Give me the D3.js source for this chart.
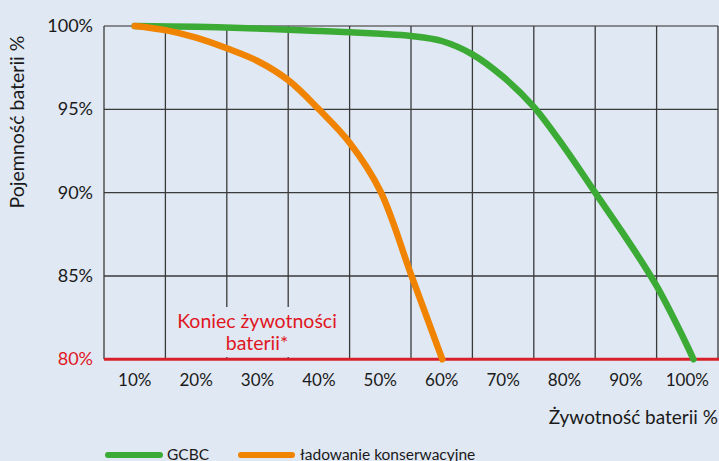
<!DOCTYPE html>
<html><head><meta charset="utf-8">
<script src="https://cdn.jsdelivr.net/npm/d3@7"></script>
<style>
html,body{margin:0;padding:0;background:#e0e8f3;}
svg{display:block;font-family:Lato,"Noto Sans",sans-serif;}
</style></head>
<body>
<svg id="c" width="719" height="461"></svg>
<script>
const xTicks = [10,20,30,40,50,60,70,80,90,100];
const yTicks = [100,95,90,85];
const xGrid = [5,15,25,35,45,55,65,75,85,95,105];
const gcbcX = [10,20,30,35,40,45,50,55,60,65,70,75,80,85,90,95,100,101];
const gcbcY = [100,99.95,99.85,99.77,99.7,99.63,99.53,99.4,99.1,98.3,96.95,95.15,92.7,90.0,87.3,84.4,80.8,80];
const floatX = [10,15,20,25,30,35,40,45,50,55,60.1];
const floatY = [100,99.75,99.3,98.66,97.9,96.75,95.0,93.0,90.1,85.1,80];
const seriesNames = ["GCBC","ładowanie konserwacyjne"];
const colors = ["#3cab36","#f08300"];

const svg = d3.select("#c");
const x = d3.scaleLinear().domain([5,105]).range([104,718]);
const y = d3.scaleLinear().domain([80,100]).range([359.3,26]);

svg.append("rect").attr("width",719).attr("height",461).attr("fill","#e0e8f3");

const g = svg.append("g");
g.selectAll(".hg").data(yTicks).join("line")
  .attr("x1",x(5)).attr("x2",x(105))
  .attr("y1",d=>y(d)).attr("y2",d=>y(d))
  .attr("stroke",d=>d===100?"#6a6a6a":"#3a3a3a").attr("stroke-width",1.3);
g.selectAll(".vg").data(xGrid).join("line")
  .attr("x1",d=>x(d)).attr("x2",d=>x(d))
  .attr("y1",y(100)).attr("y2",y(80))
  .attr("stroke","#3a3a3a").attr("stroke-width",1.3);

svg.append("rect").attr("x",x(16.5)).attr("y",307).attr("width",x(44)-x(16.5)).attr("height",50)
  .attr("fill","#e0e8f3");

svg.append("line").attr("x1",x(5)).attr("x2",719).attr("y1",y(80)).attr("y2",y(80))
  .attr("stroke","#d9202a").attr("stroke-width",3);

const line = d3.line().x(d=>x(d[0])).y(d=>y(d[1])).curve(d3.curveCatmullRom.alpha(0.5));
const gData = gcbcX.map((v,i)=>[v,gcbcY[i]]);
const fData = floatX.map((v,i)=>[v,floatY[i]]);
svg.append("path").attr("d",line(gData)).attr("fill","none").attr("stroke",colors[0])
  .attr("stroke-width",6.5).attr("stroke-linecap","round");
svg.append("path").attr("d",line(fData)).attr("fill","none").attr("stroke",colors[1])
  .attr("stroke-width",6.5).attr("stroke-linecap","round");

svg.selectAll(".yl").data(yTicks.concat([80])).join("text")
  .attr("x",93).attr("y",d=>y(d)+6).attr("text-anchor","end")
  .attr("font-size",18).attr("fill",d=>d===80?"#e0161f":"#1a1a1a").text(d=>d+"%");
svg.selectAll(".xl").data(xTicks).join("text")
  .attr("x",d=>x(d)).attr("y",386).attr("text-anchor","middle")
  .attr("font-size",17).attr("fill","#1a1a1a").text(d=>d+"%");

svg.append("text").attr("x",257).attr("y",328).attr("text-anchor","middle")
  .attr("font-size",19.5).attr("fill","#e0161f").text("Koniec żywotności");
svg.append("text").attr("x",257).attr("y",350).attr("text-anchor","middle")
  .attr("font-size",19.5).attr("fill","#e0161f").text("baterii*");

svg.append("text").attr("x",718).attr("y",424).attr("text-anchor","end")
  .attr("font-size",19).attr("fill","#1a1a1a").text("Żywotność baterii %");
svg.append("text").attr("transform","translate(24,122) rotate(-90)").attr("text-anchor","middle")
  .attr("font-size",19.5).attr("fill","#1a1a1a").text("Pojemność baterii %");

const leg = [{x1:108,x2:160,tx:167},{x1:241,x2:292,tx:300}];
leg.forEach((l,i)=>{
  svg.append("line").attr("x1",l.x1).attr("x2",l.x2).attr("y1",455).attr("y2",455)
    .attr("stroke",colors[i]).attr("stroke-width",6).attr("stroke-linecap","round");
  svg.append("text").attr("x",l.tx).attr("y",459.5).attr("font-size",15.5).attr("fill","#1a1a1a").text(seriesNames[i]);
});
</script>
</body></html>
